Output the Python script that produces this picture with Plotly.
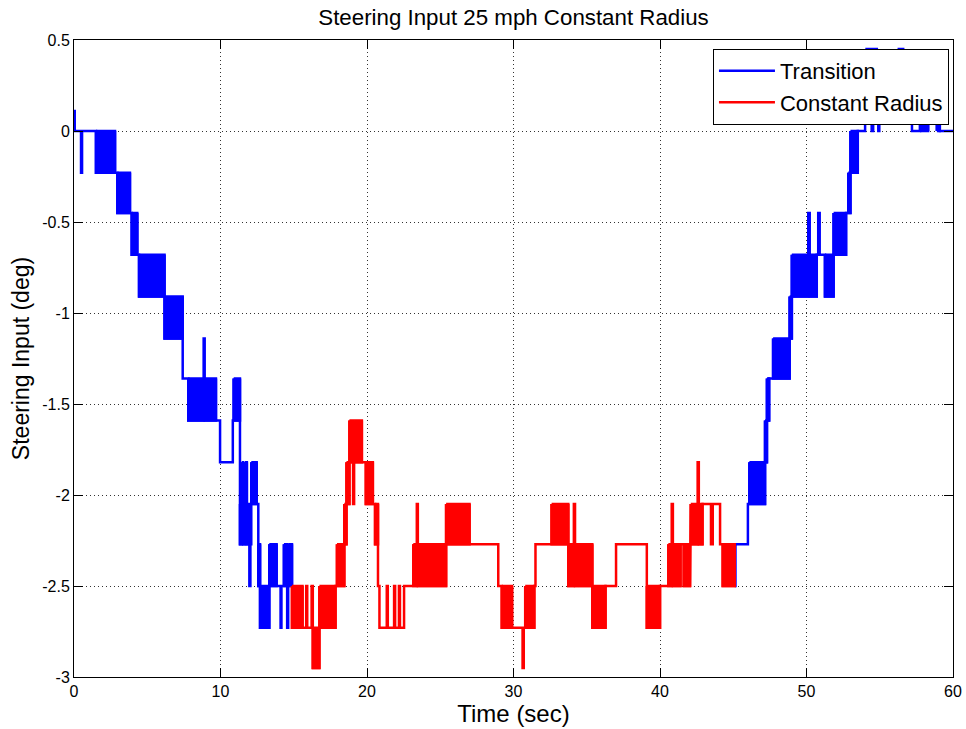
import plotly.graph_objects as go

# ---------------- text ----------------
title_text = "Steering Input 25 mph Constant Radius"
x_label = "Time (sec)"
y_label = "Steering Input (deg)"
series_names = ["Transition", "Constant Radius"]

x_tick_vals = [0, 10, 20, 30, 40, 50, 60]
x_tick_text = ["0", "10", "20", "30", "40", "50", "60"]
y_tick_vals = [0.5, 0, -0.5, -1, -1.5, -2, -2.5, -3]
y_tick_text = ["0.5", "0", "-0.5", "-1", "-1.5", "-2", "-2.5", "-3"]

# ---------------- data ----------------
# Each series is a sequence of segments: segment i spans time t[i]..t[i+1].
# Within a segment the steering value is level_a (steady) or dithers
# rapidly between level_a and level_b (drawn as a solid band).

# Transition, first part (0 - 14.9 s)
trans1_t = [0.00, 0.05, 0.48, 0.55, 1.50, 2.80, 2.96, 3.82, 3.94, 4.32,
            4.44, 6.18, 7.42, 7.80, 8.85, 8.92, 9.69, 9.97, 10.84, 10.90,
            11.33, 11.45, 11.55, 11.67, 11.80, 11.97, 12.04, 12.10, 12.47, 12.58,
            12.70, 13.33, 13.83, 14.10, 14.16, 14.33, 14.55, 14.62, 14.88]
trans1_a = [0.11, 0.00, -0.23, 0.00, 0.00, -0.23, -0.23, -0.45, -0.45, -0.68,
            -0.68, -0.91, -1.36, -1.36, -1.14, -1.36, -1.59, -1.82, -1.59, -1.36,
            -2.05, -1.82, -2.05, -1.82, -2.05, -2.50, -2.27, -1.82, -2.05, -2.27,
            -2.50, -2.27, -2.50, -2.73, -2.50, -2.27, -2.73, -2.27]
trans1_b = [0.11, 0.00, -0.23, 0.00, -0.23, -0.23, -0.45, -0.45, -0.68, -0.68,
            -0.91, -1.14, -1.36, -1.59, -1.14, -1.59, -1.59, -1.82, -1.59, -1.59,
            -2.27, -2.05, -2.27, -2.05, -2.27, -2.50, -2.27, -2.05, -2.05, -2.50,
            -2.73, -2.50, -2.50, -2.73, -2.50, -2.50, -2.73, -2.50]

# Transition, second part (45.1 - 60 s)
trans2_t = [45.10, 45.15, 46.00, 46.10, 47.17, 47.30, 47.45, 47.72, 48.85, 49.00,
            50.12, 50.22, 50.70, 50.80, 50.90, 51.26, 51.85, 52.70, 52.85, 53.00,
            53.50, 54.00, 54.10, 54.45, 54.55, 54.80, 54.90, 54.97, 56.30, 56.60,
            57.20, 57.75, 58.30, 58.90, 59.10, 60.00]
trans2_a = [-2.50, -2.27, -2.05, -1.82, -1.59, -1.36, -1.36, -1.14, -0.91, -0.68,
            -0.45, -0.68, -0.68, -0.45, -0.68, -0.68, -0.45, -0.45, -0.23, 0.00,
            0.00, 0.23, 0.45, 0.00, 0.45, 0.23, 0.00, 0.23, 0.45, 0.23,
            0.00, 0.00, 0.23, 0.00, 0.00]
trans2_b = [-2.50, -2.27, -2.05, -2.05, -1.82, -1.59, -1.36, -1.36, -1.14, -0.91,
            -0.45, -0.91, -0.68, -0.45, -0.68, -0.91, -0.68, -0.45, -0.45, -0.23,
            0.00, 0.23, 0.45, 0.00, 0.45, 0.23, 0.00, 0.23, 0.45, 0.23,
            0.00, 0.23, 0.23, 0.23, 0.00]

# Constant Radius (14.9 - 45.1 s)
const_t = [14.88, 15.60, 15.85, 15.92, 16.22, 16.30, 16.75, 17.85, 17.95, 18.45,
           18.60, 18.80, 19.05, 19.12, 19.65, 19.92, 20.40, 20.55, 20.75, 20.85,
           21.35, 21.42, 21.85, 21.92, 22.18, 22.25, 22.53, 23.16, 23.40, 23.47,
           25.40, 27.00, 28.96, 29.20, 29.90, 30.62, 30.70, 30.80, 31.42, 31.50,
           32.60, 33.74, 34.12, 34.20, 34.36, 34.52, 35.38, 36.28, 37.00, 39.10,
           40.00, 40.57, 40.80, 40.88, 41.40, 41.62, 42.05, 42.10, 42.57, 42.65,
           42.90, 43.48, 43.60, 44.10, 44.28, 45.10]
const_a = [-2.50, -2.73, -2.50, -2.73, -2.50, -2.73, -2.50, -2.50, -2.27, -2.05,
           -1.82, -1.59, -2.05, -1.59, -1.82, -1.82, -2.05, -2.05, -2.50, -2.73,
           -2.50, -2.73, -2.50, -2.73, -2.50, -2.73, -2.50, -2.27, -2.05, -2.27,
           -2.05, -2.27, -2.50, -2.50, -2.73, -2.95, -2.73, -2.50, -2.50, -2.27,
           -2.05, -2.27, -2.05, -2.27, -2.27, -2.27, -2.50, -2.50, -2.27, -2.50,
           -2.50, -2.27, -2.05, -2.27, -2.27, -2.27, -2.27, -2.05, -1.82, -2.05,
           -2.05, -2.27, -2.05, -2.27, -2.27]
const_b = [-2.73, -2.73, -2.50, -2.73, -2.50, -2.95, -2.73, -2.50, -2.50, -2.27,
           -2.05, -1.82, -2.05, -1.82, -1.82, -2.05, -2.05, -2.27, -2.50, -2.73,
           -2.50, -2.73, -2.50, -2.73, -2.50, -2.73, -2.50, -2.50, -2.05, -2.50,
           -2.27, -2.27, -2.50, -2.73, -2.73, -2.95, -2.73, -2.73, -2.50, -2.27,
           -2.27, -2.50, -2.05, -2.50, -2.27, -2.50, -2.73, -2.50, -2.27, -2.73,
           -2.50, -2.50, -2.05, -2.50, -2.27, -2.50, -2.27, -2.27, -1.82, -2.27,
           -2.05, -2.27, -2.05, -2.27, -2.50]

colors = ["#0000FF", "#FF0000"]


def build(t, a, b):
    assert len(t) == len(a) + 1 == len(b) + 1, (len(t), len(a), len(b))
    lx, ly, fx, fy = [], [], [], []
    for i in range(len(a)):
        t0, t1 = t[i], t[i + 1]
        lx += [t0, t0, t1, t1]
        ly += [a[i], b[i], b[i], a[i]]
        if a[i] != b[i]:
            fx += [t0, t1, t1, t0, t0, None]
            fy += [a[i], a[i], b[i], b[i], a[i], None]
    return lx, ly, fx, fy


groups = [
    [(trans1_t, trans1_a, trans1_b), (trans2_t, trans2_a, trans2_b)],
    [(const_t, const_a, const_b)],
]

LW = 2.5
fig = go.Figure()
for name, color, parts in zip(series_names, colors, groups):
    LX, LY, FX, FY = [], [], [], []
    for (t, a, b) in parts:
        lx, ly, fx, fy = build(t, a, b)
        if LX:
            LX.append(None)
            LY.append(None)
        LX += lx
        LY += ly
        FX += fx
        FY += fy
    fig.add_trace(go.Scatter(
        x=FX, y=FY, mode="lines", fill="toself", fillcolor=color,
        line=dict(color=color, width=LW), showlegend=False, hoverinfo="skip"))
    fig.add_trace(go.Scatter(
        x=LX, y=LY, mode="lines", name=name, connectgaps=False,
        line=dict(color=color, width=LW), hoverinfo="skip"))

FONT = "Liberation Sans, Arial, Helvetica, sans-serif"
axis_common = dict(
    showline=True, linecolor="black", linewidth=1, mirror="ticks",
    ticks="inside", ticklen=9, tickcolor="black", tickwidth=1,
    showgrid=True, gridcolor="#333333", gridwidth=1, griddash="1px,3px",
    zeroline=False, automargin=False,
    tickfont=dict(family=FONT, size=16, color="black"),
)

W, H = 966, 729
fig.update_layout(
    width=W, height=H,
    margin=dict(l=74, r=13, t=40, b=52, autoexpand=False),
    paper_bgcolor="white", plot_bgcolor="white",
    font=dict(family=FONT, color="black"),
    title=dict(text=title_text, x=0.5, xref="paper", xanchor="center",
               y=1 - 17.5 / H, yref="container", yanchor="middle",
               font=dict(family=FONT, size=22.3, color="black")),
    xaxis=dict(range=[0, 60], tickvals=x_tick_vals, ticktext=x_tick_text,
               title=dict(text=x_label, font=dict(family=FONT, size=24), standoff=4),
               **axis_common),
    yaxis=dict(range=[-3, 0.5], tickvals=y_tick_vals, ticktext=y_tick_text,
               title=dict(text=y_label, font=dict(family=FONT, size=23), standoff=6),
               **axis_common),
    legend=dict(x=0.9954, xanchor="right", y=0.986, yanchor="top",
                bgcolor="white", bordercolor="black", borderwidth=1,
                font=dict(family=FONT, size=22, color="black"),
                itemwidth=56, tracegroupgap=0),
    hovermode=False,
)

# remove the default 8 px page margin so the figure fills the window exactly
fig.write_html("out.html", config={"displayModeBar": False},
               post_script="document.body.style.margin='0';"
                           "document.body.style.overflow='hidden';")
